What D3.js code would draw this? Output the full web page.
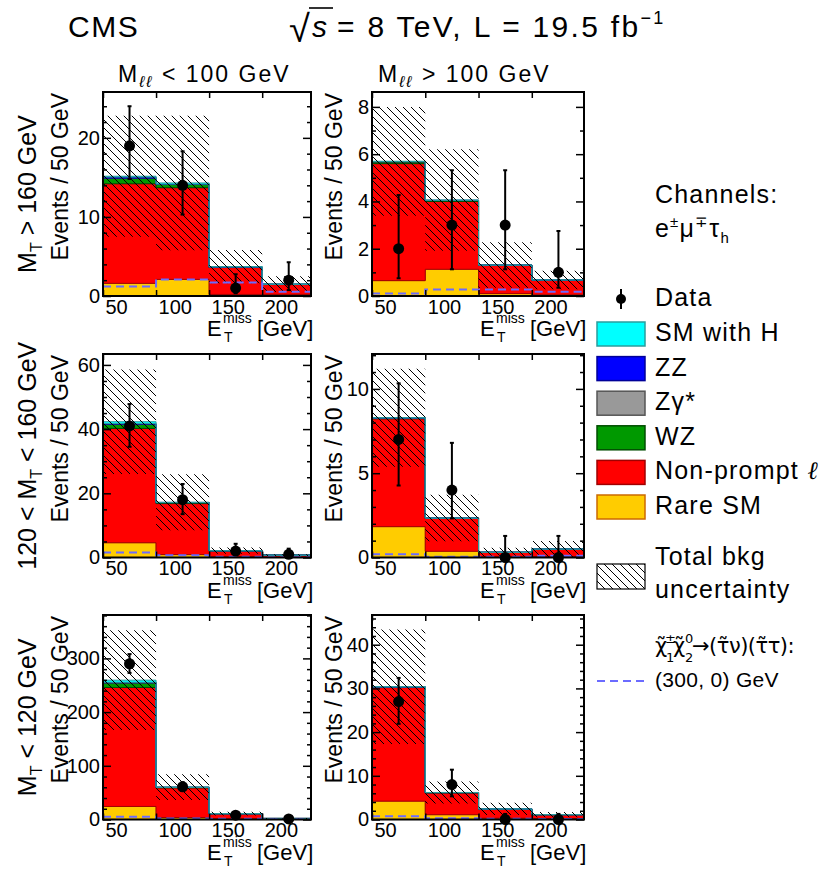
<!DOCTYPE html>
<html>
  <head>
    <meta charset="utf-8">
    <title>CMS trilepton MET</title>
    <script src="https://d3js.org/d3.v7.min.js"></script>
    <style>
      body { margin: 0; background: #fff; }
      svg text { font-family: "Liberation Sans", Arial, Helvetica, sans-serif; fill: #000; }
    </style>
  </head>
  <body>
    <svg></svg>
    <script>
      const svg = d3.select('svg')
        .attr('width', 839)
        .attr('height', 869);

      // E_T^miss bins [GeV]
      const binEdges = [50, 100, 150, 200, 250];
      const xTicks = [50, 100, 150, 200];

      // panel order: 0 MT>160/Mll<100, 1 MT>160/Mll>100, 2 120<MT<160/Mll<100,
      // 3 120<MT<160/Mll>100, 4 MT<120/Mll<100, 5 MT<120/Mll>100
      // stack components, per bin (not cumulative), bottom to top
      const rareSM    = [[1.6, 2.1, 0.2, 0.2], [0.65, 1.13, 0.1, 0.05], [4.6, 0.9, 0.2, 0.05],
                         [1.83, 0.37, 0.03, 0.05], [24.3, 3.7, 1.0, 0.2], [4.2, 1.1, 0.3, 0.2]];
      const nonPrompt = [[12.6, 11.6, 3.4, 1.25], [4.95, 2.87, 1.2, 0.62], [35.6, 15.9, 1.85, 0.66],
                         [6.4, 1.95, 0.27, 0.44], [221.5, 55.3, 9.6, 1.7], [26.0, 5.0, 2.1, 0.9]];
      const wz        = [[0.7, 0.4, 0.05, 0.03], [0.08, 0.04, 0.01, 0.01], [1.3, 0.3, 0.05, 0.02],
                         [0.04, 0.02, 0.01, 0.01], [8.7, 0.8, 0.2, 0.05], [0.1, 0.05, 0.02, 0.01]];
      const zgamma    = [[0, 0, 0, 0], [0, 0, 0, 0], [0, 0, 0, 0],
                         [0, 0, 0, 0], [0, 0, 0, 0], [0, 0, 0, 0]];
      const zz        = [[0.15, 0.05, 0.02, 0.01], [0.01, 0.01, 0, 0], [0.2, 0.05, 0.01, 0],
                         [0.01, 0, 0, 0], [1.0, 0.2, 0.05, 0], [0.05, 0.02, 0, 0]];
      const smH       = [[0.1, 0.15, 0.05, 0.02], [0.01, 0.01, 0, 0], [0.6, 0.05, 0.02, 0],
                         [0.01, 0, 0, 0], [4.0, 0.3, 0.05, 0], [0.05, 0.02, 0, 0]];
      // half width of total background uncertainty
      const bkgUnc    = [[7.65, 8.5, 2.1, 1.0], [2.3, 2.15, 0.96, 0.39], [16.3, 8.7, 1.0, 0.32],
                         [2.9, 1.38, 0.27, 0.48], [93, 24, 3.5, 0.9], [13.1, 2.5, 1.4, 0.6]];
      // observed data with error bar ends
      const dataObs   = [[19, 14, 1, 2], [2, 3, 3, 1], [41, 18, 2, 1],
                         [7, 4, 0, 0], [290, 61, 8, 1], [27, 8, 0, 0]];
      const dataLo    = [[14.8, 10.3, 0.35, 0.75], [0.75, 1.13, 1.13, 0.35], [34.5, 13.5, 0.75, 0.35],
                         [4.27, 2.32, 0, 0], [273, 53.5, 5.3, 0.35], [21.9, 5.3, 0, 0]];
      const dataHi    = [[24.0, 18.3, 2.75, 4.27], [4.27, 5.32, 5.32, 2.75], [47.8, 22.9, 4.27, 2.75],
                         [10.33, 6.8, 1.28, 1.28], [308, 69.5, 11.3, 2.75], [32.4, 11.4, 1.28, 1.28]];
      // signal (300, 0) GeV
      const signal    = [[1.2, 2.1, 1.7, 0.55], [0.11, 0.28, 0.28, 0.18], [1.56, 0.73, 0.2, 0.1],
                         [0.2, 0.04, 0.04, 0.1], [5, 1.9, 1.2, 0.5], [0.76, 0.3, 0.2, 0.1]];

      // axis settings per panel
      const yMax   = [25.8, 8.63, 63.4, 12.07, 380.8, 46.8];
      const yMajor = [10, 2, 20, 5, 100, 10];
      const yMinor = [2, 1, 5, 1, 20, 2];

      const components = [rareSM, nonPrompt, wz, zgamma, zz, smH];
      const fills   = ['#ffcc00', '#ff0000', '#009900', '#999999', '#0000ff', '#00ffff'];
      const strokes = ['#cc6a00', '#a00000', '#004d00', '#555555', '#000099', '#2a9d9d'];

      // layout
      const colX = [[103, 311], [372, 584]];
      const colXMax = [246, 249];
      const rowY = [[92, 296], [354, 557.5], [615, 819.5]];
      const yTitleX = [68, 342];

      const txt = (x, y, size, str, spacing) => svg.append('text')
        .attr('x', x).attr('y', y)
        .style('font-size', size + 'px')
        .style('letter-spacing', (spacing || 0) + 'px')
        .text(str);

      // one text element made of absolutely placed pieces [str, x, y, size]
      const pieces = (list) => {
        const t = svg.append('text');
        list.forEach(d => t.append('tspan')
          .attr('x', d[1]).attr('y', d[2])
          .style('font-size', d[3] + 'px')
          .text(d[0]));
        return t;
      };

      const defs = svg.append('defs');
      const pat = defs.append('pattern')
        .attr('id', 'hatch')
        .attr('patternUnits', 'userSpaceOnUse')
        .attr('width', 8)
        .attr('height', 8);
      pat.append('path')
        .attr('d', 'M-2,-2 L10,10 M-2,6 L2,10 M6,-2 L10,2')
        .attr('stroke', '#000')
        .attr('stroke-width', 1);

      const stepX = binEdges;
      const extend = arr => arr.concat([arr[arr.length - 1]]);

      const drawPanel = (p) => {
        const col = p % 2, row = Math.floor(p / 2);
        const [x0, x1] = colX[col];
        const [y0, y1] = rowY[row];

        const x = d3.scaleLinear().domain([50, colXMax[col]]).range([x0, x1]);
        const y = d3.scaleLinear().domain([0, yMax[p]]).range([y1, y0]);

        const clipId = 'clip' + p;
        defs.append('clipPath').attr('id', clipId)
          .append('rect')
          .attr('x', x0).attr('y', y0)
          .attr('width', x1 - x0).attr('height', y1 - y0);

        const g = svg.append('g').attr('clip-path', `url(#${clipId})`);

        // stacked backgrounds
        let lower = [0, 0, 0, 0];
        components.forEach((comp, c) => {
          const upper = lower.map((v, i) => v + comp[p][i]);
          const lo = extend(lower), up = extend(upper);
          const area = d3.area()
            .curve(d3.curveStepAfter)
            .x((d, i) => x(stepX[i]))
            .y0((d, i) => y(lo[i]))
            .y1((d, i) => y(up[i]));
          g.append('path')
            .attr('d', area(stepX))
            .attr('fill', fills[c])
            .attr('stroke', strokes[c])
            .attr('stroke-width', 1);
          lower = upper;
        });
        const total = lower;

        // uncertainty band
        const bandLo = extend(total.map((v, i) => Math.max(0, v - bkgUnc[p][i])));
        const bandHi = extend(total.map((v, i) => v + bkgUnc[p][i]));
        g.append('path')
          .attr('d', d3.area()
            .curve(d3.curveStepAfter)
            .x((d, i) => x(stepX[i]))
            .y0((d, i) => y(bandLo[i]))
            .y1((d, i) => y(bandHi[i]))(stepX))
          .attr('fill', 'url(#hatch)');

        // signal
        const sig = extend(signal[p]);
        g.append('path')
          .attr('d', d3.line()
            .curve(d3.curveStepAfter)
            .x((d, i) => x(stepX[i]))
            .y((d, i) => y(sig[i]))(stepX))
          .attr('fill', 'none')
          .attr('stroke', '#6b6bff')
          .attr('stroke-width', 2)
          .attr('stroke-dasharray', '8,5');

        // axes: ticks inside frame
        const majors = d3.range(0, yMax[p] + 1e-9, yMajor[p]);
        const minors = d3.range(0, yMax[p] + 1e-9, yMinor[p]).filter(v => majors.indexOf(v) < 0);

        const yAxisG = svg.append('g').attr('transform', `translate(${x0},0)`)
          .call(d3.axisLeft(y).tickValues(majors).tickSize(-8).tickPadding(3));
        yAxisG.selectAll('text').style('font-size', '20px');
        svg.append('g').attr('transform', `translate(${x0},0)`)
          .call(d3.axisLeft(y).tickValues(minors).tickSize(-4).tickFormat(''));
        svg.append('g').attr('transform', `translate(${x1},0)`)
          .call(d3.axisRight(y).tickValues(majors).tickSize(-8).tickFormat(''));
        svg.append('g').attr('transform', `translate(${x1},0)`)
          .call(d3.axisRight(y).tickValues(minors).tickSize(-4).tickFormat(''));

        const xAxisG = svg.append('g').attr('transform', `translate(0,${y1})`)
          .call(d3.axisBottom(x).tickValues(xTicks).tickSize(-6).tickPadding(4));
        xAxisG.selectAll('text')
          .style('font-size', '20px')
          .attr('text-anchor', 'start')
          .attr('dx', 2)
          .attr('dy', '0.68em');
        svg.append('g').attr('transform', `translate(0,${y0})`)
          .call(d3.axisTop(x).tickValues(xTicks).tickSize(-6).tickFormat(''));

        svg.selectAll('.domain').remove();
        svg.selectAll('.tick line').attr('stroke', '#000').attr('stroke-width', 1.5);

        // frame
        svg.append('rect')
          .attr('x', x0).attr('y', y0)
          .attr('width', x1 - x0).attr('height', y1 - y0)
          .attr('fill', 'none')
          .attr('stroke', '#000')
          .attr('stroke-width', 2);

        // data
        const cx = i => x((binEdges[i] + binEdges[i + 1]) / 2);
        const dg = svg.append('g');
        dataObs[p].forEach((v, i) => {
          dg.append('line')
            .attr('x1', cx(i)).attr('x2', cx(i))
            .attr('y1', y(dataLo[p][i])).attr('y2', y(dataHi[p][i]))
            .attr('stroke', '#000').attr('stroke-width', 2);
          [dataLo[p][i], dataHi[p][i]].forEach(e => {
            if (e > 0) dg.append('line')
              .attr('x1', cx(i) - 2).attr('x2', cx(i) + 2)
              .attr('y1', y(e)).attr('y2', y(e))
              .attr('stroke', '#000').attr('stroke-width', 2);
          });
          dg.append('circle')
            .attr('cx', cx(i)).attr('cy', y(v)).attr('r', 5.5)
            .attr('fill', '#000');
        });

        // x title E_T^miss [GeV]
        const tx = x1 - 104, ty = y1 + 40;
        pieces([['E', tx, ty, 22], ['miss', tx + 16, ty - 13, 14],
                ['T', tx + 17, ty + 6, 14], ['[GeV]', tx + 50, ty, 22]]);

        // y title
        svg.append('text')
          .attr('transform', `translate(${yTitleX[col]},${y0 + 1}) rotate(-90)`)
          .attr('text-anchor', 'end')
          .style('font-size', '23px')
          .text('Events / 50 GeV');
      };

      d3.range(6).forEach(drawPanel);

      // row labels
      const rowLabels = [['', ' > 160 GeV'], ['120 < ', ' < 160 GeV'], ['', ' < 120 GeV']];
      rowLabels.forEach((lab, r) => {
        const t = svg.append('text')
          .attr('transform', `translate(36,${(rowY[r][0] + rowY[r][1]) / 2}) rotate(-90)`)
          .attr('text-anchor', 'middle')
          .style('font-size', '25px');
        t.append('tspan').text(lab[0] + 'M');
        t.append('tspan').attr('dy', 6).style('font-size', '16px').text('T');
        t.append('tspan').attr('dy', -6).text(lab[1]);
      });

      // column headers
      [['< 100 GeV', 118], ['> 100 GeV', 378]].forEach(h => {
        const t = txt(h[1], 82, 23, '', 2);
        t.append('tspan').text('M');
        t.append('tspan').attr('dy', 5).style('font-size', '16px').style('font-style', 'italic').text('ℓℓ');
        t.append('tspan').attr('dy', -5).text(' ' + h[0]);
      });

      // title
      txt(68, 37, 30, 'CMS', 1.5);
      const rt = pieces([['√', 289, 42, 38], ['s', 312, 37, 30]]);
      rt.select('tspan:last-child').style('font-style', 'italic');
      svg.append('line')
        .attr('x1', 309).attr('x2', 333)
        .attr('y1', 8).attr('y2', 8)
        .attr('stroke', '#000').attr('stroke-width', 1.6);
      const tt = txt(337, 37, 30, '', 2.3);
      tt.append('tspan').text('= 8 TeV, L = 19.5 fb');
      tt.append('tspan').attr('dy', -13).style('font-size', '18px').text('−1');

      // legend
      const lx = 597, ltx = 655, ls = 1.2;
      txt(ltx, 203, 25, 'Channels:', ls);
      const chan = txt(ltx, 237, 25, '', ls);
      chan.append('tspan').text('e');
      chan.append('tspan').attr('dy', -10).style('font-size', '15px').text('±');
      chan.append('tspan').attr('dy', 10).text('μ');
      chan.append('tspan').attr('dy', -10).style('font-size', '15px').text('∓');
      chan.append('tspan').attr('dy', 10).text('τ');
      chan.append('tspan').attr('dy', 6).style('font-size', '15px').text('h');

      // data entry
      svg.append('line').attr('x1', 621).attr('x2', 621).attr('y1', 289).attr('y2', 309)
        .attr('stroke', '#000').attr('stroke-width', 2);
      svg.append('circle').attr('cx', 621).attr('cy', 299).attr('r', 5).attr('fill', '#000');
      txt(ltx, 306, 25, 'Data', ls);

      const legendLabels = ['SM with H', 'ZZ', 'Zγ*', 'WZ', 'Non-prompt ', 'Rare SM'];
      legendLabels.forEach((lab, i) => {
        const c = 5 - i;
        const top = 322 + i * 34.6;
        svg.append('rect')
          .attr('x', lx).attr('y', top).attr('width', 48).attr('height', 24)
          .attr('fill', fills[c]).attr('stroke', strokes[c]).attr('stroke-width', 1.5);
        const t = txt(ltx, top + 19, 25, '', ls);
        t.append('tspan').text(lab);
        if (i === 4) t.append('tspan').style('font-style', 'italic').style('font-family', '"DejaVu Serif", serif').text('ℓ');
      });

      svg.append('rect')
        .attr('x', lx).attr('y', 564).attr('width', 48).attr('height', 25)
        .attr('fill', 'url(#hatch)').attr('stroke', '#000').attr('stroke-width', 1.2);
      txt(ltx, 565, 25, 'Total bkg', ls);
      txt(ltx, 598, 25, 'uncertainty', ls);

      // signal legend: chargino-neutralino label (combining tilde over the letters)
      const sl = pieces([
        ['χ\u0303', 655, 653, 21], ['±', 665, 643, 13], ['1', 666, 662, 13],
        ['χ\u0303', 673, 653, 21], ['0', 685, 643, 13], ['2', 685, 662, 13],
        ['→(τ\u0303ν)(τ\u0303τ):', 692, 653, 21]
      ]);
      sl.style('font-family', '"DejaVu Sans", sans-serif');
      sl.selectAll('tspan').filter((d, i) => i === 0 || i === 3 || i === 6)
        .style('letter-spacing', '-0.5px');
      svg.append('line').attr('x1', lx).attr('x2', lx + 48).attr('y1', 681).attr('y2', 681)
        .attr('stroke', '#6b6bff').attr('stroke-width', 2).attr('stroke-dasharray', '8,5');
      txt(ltx, 687, 21, '(300, 0) GeV', 0.3);
    </script>
  </body>
</html>
